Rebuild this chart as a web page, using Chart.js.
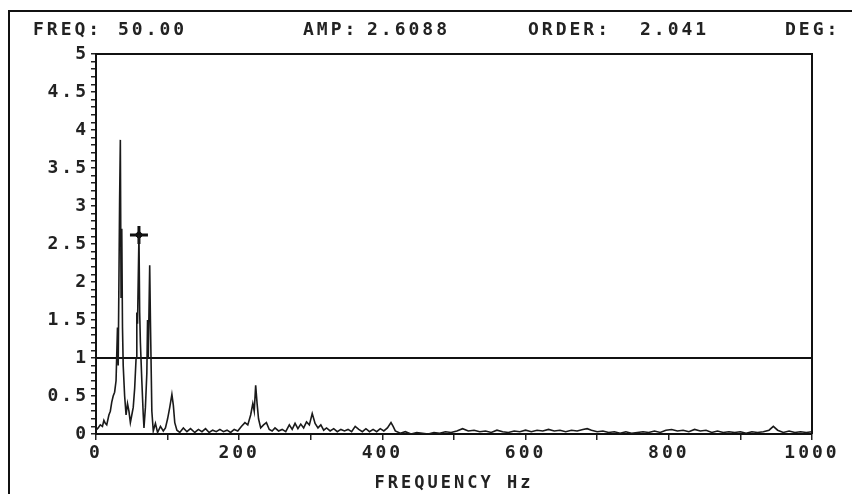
<!DOCTYPE html>
<html>
<head>
<meta charset="utf-8">
<script src="https://cdn.jsdelivr.net/npm/chart.js@4/dist/chart.umd.min.js"></script>
<style>
  html, body { margin: 0; padding: 0; background: #fff; }
  #wrap { width: 852px; height: 494px; position: relative; }
</style>
</head>
<body>
<div id="wrap"><canvas id="fftChart" width="852" height="494"></canvas></div>
<script>
// spectrum (Hz, amplitude)
const freqs = [
  0, 3, 6, 9, 11,
  13, 15, 18, 20, 22,
  24, 26, 28, 30, 31,
  33, 34, 35, 36, 37,
  38, 40, 42, 44, 46,
  48, 50, 52, 54, 56,
  57, 58, 60, 61, 62,
  64, 66, 67, 69, 71,
  72, 73, 75, 76, 78,
  80, 83, 86, 90, 94,
  97, 100, 103, 106, 108,
  110, 113,
  117, 122, 127, 132, 138,
  143, 148, 153, 158, 163,
  168, 173, 178, 183, 188,
  193, 198, 203, 208, 212,
  216, 219, 221, 223, 225,
  227, 230, 234, 238, 242,
  246, 250, 255, 260, 265,
  270, 274, 278, 282, 286,
  290, 294, 298, 302, 306,
  310, 314, 318, 322, 327,
  332, 337, 342, 347, 352,
  357, 362, 367, 372, 377,
  382, 387, 392, 397, 402,
  407, 412, 415, 418,
  425, 432, 440, 448, 456,
  464, 472, 480, 488, 496,
  504, 512, 520, 528, 536,
  544, 552, 560, 568, 576,
  584, 592, 600, 608, 616,
  624, 632, 640, 648, 656,
  664, 672, 680, 686, 692,
  700, 708, 716, 724, 732,
  740, 748, 756, 764, 772,
  780, 788, 796, 804, 812,
  820, 828, 836, 844, 852,
  860, 868, 876, 884, 892,
  900, 908, 916, 924, 932,
  940, 946, 952, 960, 968,
  976, 984, 992, 1000
];
const amps = [
  0.05, 0.08, 0.12, 0.1, 0.18,
  0.14, 0.12, 0.25, 0.3, 0.42,
  0.5, 0.55, 0.7, 1.4, 0.9,
  3.1, 3.87, 1.8, 2.7, 1.4,
  0.9, 0.5, 0.25, 0.4, 0.3,
  0.15, 0.25, 0.35, 0.6, 1.0,
  1.6, 1.45, 2.62, 1.6, 1.2,
  0.7, 0.25, 0.08, 0.35, 0.8,
  1.5, 1.0, 2.22, 1.5, 0.3,
  0.04, 0.14, 0.02, 0.1, 0.04,
  0.08, 0.2, 0.35, 0.52, 0.38,
  0.15, 0.05,
  0.02, 0.08, 0.03, 0.07, 0.02,
  0.06, 0.03, 0.07, 0.02, 0.05,
  0.03, 0.06, 0.03, 0.05, 0.02,
  0.06, 0.04, 0.1, 0.15, 0.12,
  0.25, 0.4, 0.3, 0.64, 0.4,
  0.2, 0.08, 0.12, 0.15, 0.06,
  0.04, 0.08, 0.04, 0.06, 0.03,
  0.12, 0.06, 0.14, 0.07, 0.13,
  0.08, 0.16, 0.12, 0.27, 0.14,
  0.08, 0.12, 0.05, 0.08, 0.04,
  0.07, 0.03, 0.06, 0.04, 0.06,
  0.03, 0.1, 0.06, 0.03, 0.07,
  0.03, 0.06, 0.03, 0.07, 0.04,
  0.08, 0.15, 0.1, 0.04,
  0.01, 0.03, 0.0, 0.02, 0.01,
  0.0, 0.02, 0.01, 0.03, 0.02,
  0.04, 0.07, 0.04, 0.05, 0.03,
  0.04, 0.02, 0.05, 0.03, 0.02,
  0.04, 0.03, 0.05, 0.03, 0.05,
  0.04, 0.06, 0.04, 0.05, 0.03,
  0.05, 0.04, 0.06, 0.07, 0.05,
  0.03, 0.04, 0.02, 0.03, 0.01,
  0.03, 0.01, 0.02, 0.03, 0.02,
  0.04, 0.02, 0.05, 0.06, 0.04,
  0.05, 0.03, 0.06, 0.04, 0.05,
  0.02, 0.04, 0.02, 0.03, 0.02,
  0.03, 0.01, 0.03, 0.02, 0.03,
  0.05, 0.1, 0.05, 0.02, 0.04,
  0.02, 0.03, 0.02, 0.03
];

const refLevel = 1;
const markerFreq = 60;
const markerAmp = 2.62;

// readout line at the top
const freqText = '50.00';
const ampText = '2.6088';
const orderText = '2.041';

const FONT = '"DejaVu Sans Mono", monospace';

const frame = {
  id: 'frame',
  beforeDraw(chart) {
    chart.ctx.letterSpacing = '3px';
  },
  afterDraw(chart) {
    const { ctx, chartArea: a } = chart;
    ctx.save();
    ctx.strokeStyle = '#111';
    ctx.lineWidth = 2;
    // outer frame (left + top)
    ctx.beginPath();
    ctx.moveTo(9, 494);
    ctx.lineTo(9, 11);
    ctx.lineTo(852, 11);
    ctx.stroke();
    // plot box top + right
    ctx.beginPath();
    ctx.moveTo(a.left, a.top);
    ctx.lineTo(a.right, a.top);
    ctx.lineTo(a.right, a.bottom);
    ctx.stroke();

    ctx.fillStyle = '#222';
    ctx.font = 'bold 18px ' + FONT;
    ctx.letterSpacing = '3px';
    ctx.textBaseline = 'middle';
    ctx.textAlign = 'left';
    ctx.fillText('FREQ:', 33, 30);
    ctx.fillText(freqText, 118, 30);
    ctx.fillText('AMP:', 303, 30);
    ctx.fillText(ampText, 367, 30);
    ctx.fillText('ORDER:', 528, 30);
    ctx.fillText(orderText, 640, 30);
    ctx.fillText('DEG:', 785, 30);
    ctx.restore();
  }
};

new Chart(document.getElementById('fftChart'), {
  type: 'line',
  data: {
    datasets: [
      {
        data: freqs.map((f, i) => ({ x: f, y: amps[i] })),
        borderColor: '#1a1a1a',
        borderWidth: 1.6,
        pointRadius: 0,
        tension: 0
      },
      {
        data: [{ x: 0, y: refLevel }, { x: 1000, y: refLevel }],
        borderColor: '#111',
        borderWidth: 2.2,
        pointRadius: 0
      },
      {
        data: [{ x: markerFreq, y: markerAmp }],
        showLine: false,
        pointStyle: 'cross',
        pointRadius: 9,
        pointBorderWidth: 3,
        pointBorderColor: '#111'
      },
      {
        data: [{ x: markerFreq, y: markerAmp }],
        showLine: false,
        pointStyle: 'rectRot',
        pointRadius: 4,
        pointBackgroundColor: '#111',
        pointBorderColor: '#111'
      }
    ]
  },
  options: {
    animation: false,
    responsive: false,
    layout: { padding: { left: 0, right: 40, top: 54, bottom: 0 } },
    plugins: { legend: { display: false }, tooltip: { enabled: false } },
    scales: {
      x: {
        type: 'linear',
        min: 0,
        max: 1000,
        afterFit(s) { s.height = 60; },
        border: { display: true, color: '#111', width: 2 },
        grid: { drawOnChartArea: false, drawTicks: true, tickLength: 6, color: '#222', lineWidth: 1.5 },
        ticks: {
          stepSize: 100,
          autoSkip: false,
          maxRotation: 0,
          padding: 3,
          color: '#222',
          font: { family: FONT, size: 18, weight: 'bold' },
          callback: v => (v % 200 === 0 ? String(v) : '')
        },
        title: {
          display: true,
          text: 'FREQUENCY Hz',
          color: '#222',
          font: { family: FONT, size: 17, weight: 'bold' },
          padding: { top: 0, bottom: 0 }
        }
      },
      y: {
        min: 0,
        max: 5,
        afterFit(s) { s.width = 96; },
        border: { display: true, color: '#111', width: 2 },
        grid: { drawOnChartArea: false, drawTicks: true, tickLength: 5, color: '#222', lineWidth: 1.5 },
        ticks: {
          stepSize: 0.1,
          maxTicksLimit: 100,
          autoSkip: false,
          padding: 2,
          color: '#222',
          font: { family: FONT, size: 18, weight: 'bold' },
          callback: v => {
            const r = Math.round(v * 10) / 10;
            return Math.abs(r * 2 - Math.round(r * 2)) < 1e-6 ? String(r) : '';
          }
        }
      }
    }
  },
  plugins: [frame]
});
</script>
</body>
</html>
